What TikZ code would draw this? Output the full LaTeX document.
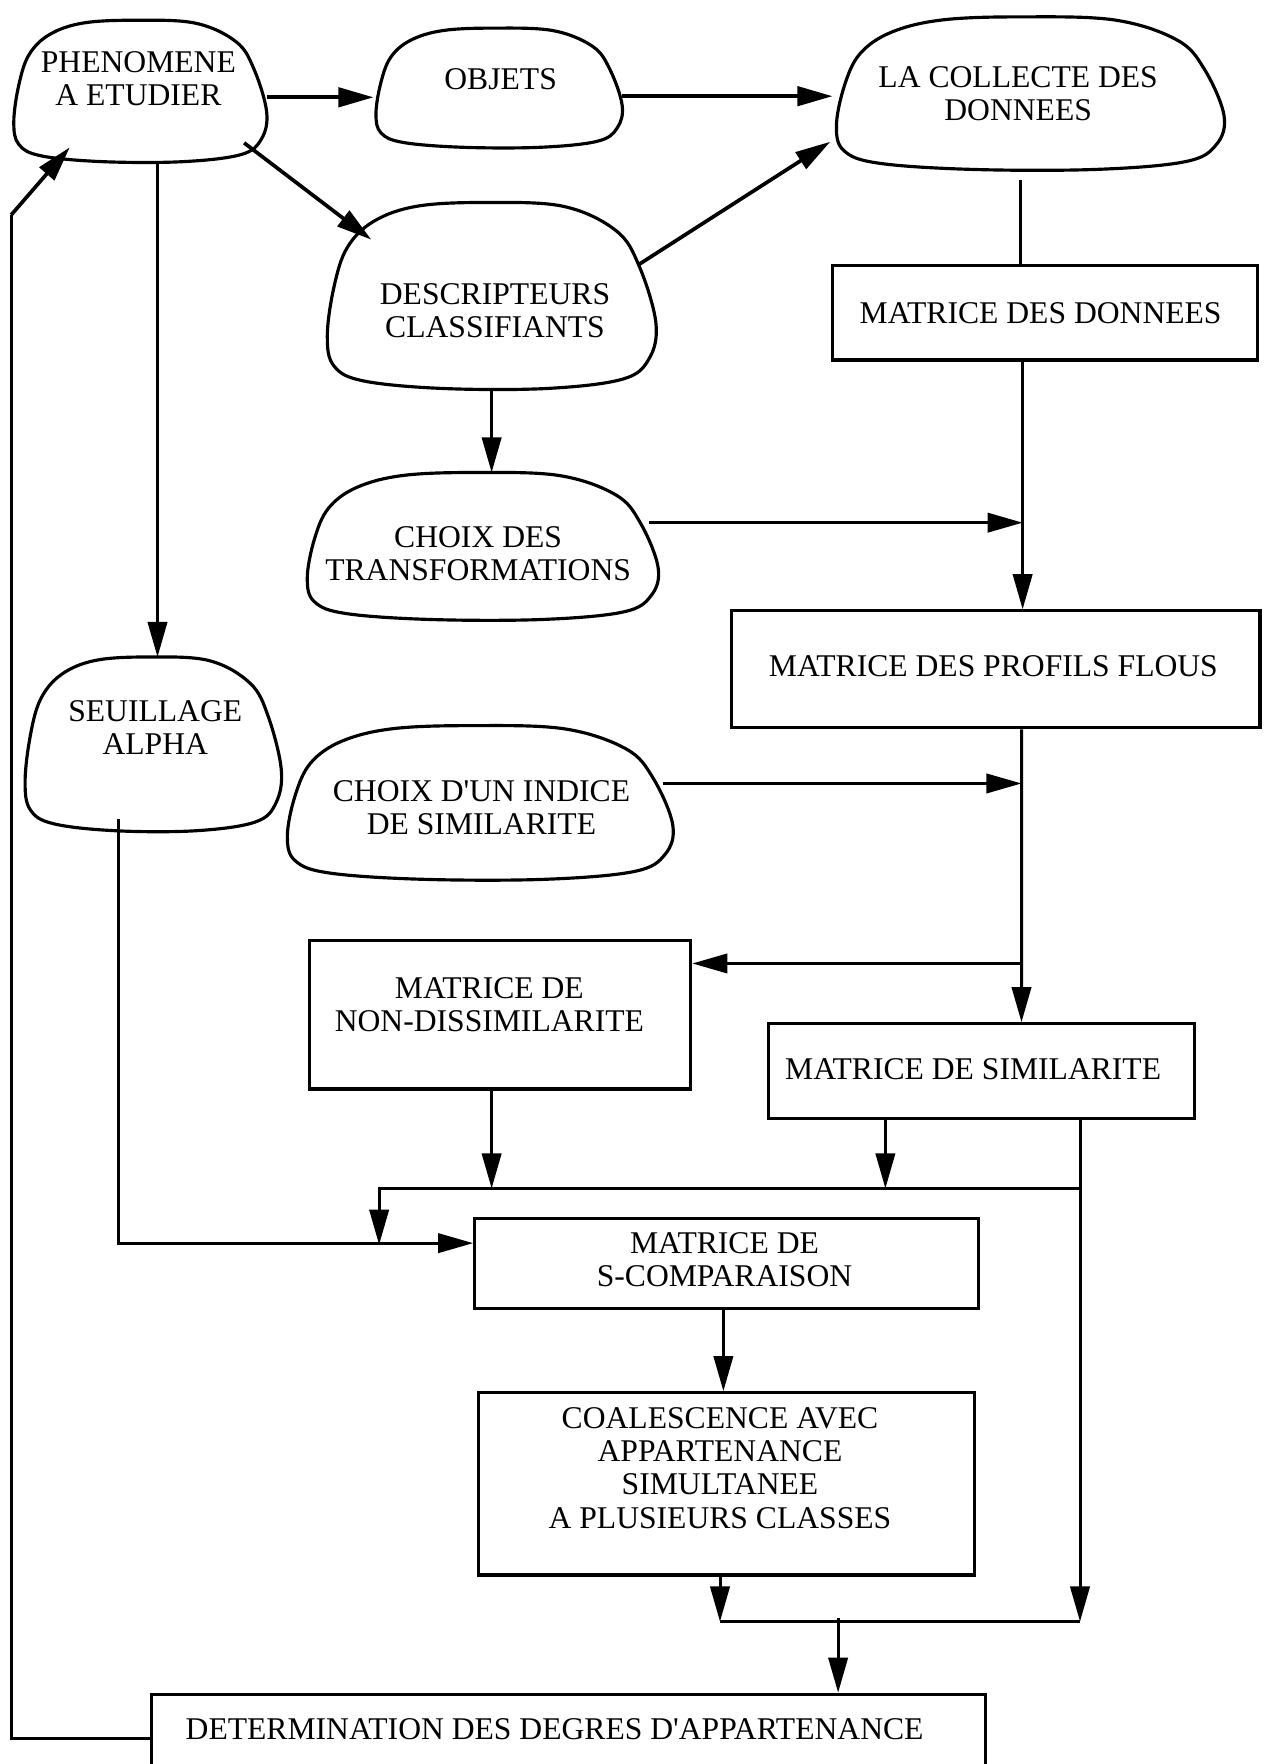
\documentclass[tikz,border=0pt]{standalone}
\usepackage{fontspec}
\setmainfont{Liberation Serif}
\usetikzlibrary{arrows.meta,calc,fit}
\tikzset{
  x=0.0225cm, y=-0.0225cm,
  blobline/.style={line width=1.8pt, line join=round},
  boxnode/.style={draw, line width=1.8pt, inner sep=0pt},
  holder/.style={inner sep=0pt, outer sep=0pt, draw=none},
  lbl/.style={align=center, font=\fontsize{18}{18.8}\selectfont, inner sep=0pt},
  conn/.style={line width=1.7pt},
  arr/.style={conn, -{Triangle[length=20pt,width=11pt]}},
  arrthick/.style={line width=2.1pt, -{Triangle[length=20pt,width=11pt]}}
}
\newcommand{\blobdraw}[5]{%
  \begin{scope}[shift={(#2,#3)}, xscale=#4-#2, yscale=#5-#3]
    \draw[blobline] plot[smooth cycle, tension=0.6] coordinates {
      (0.48,0.00) (0.72,0.02) (0.88,0.15) (0.95,0.34) (1.00,0.64) (0.98,0.83)
      (0.90,0.94) (0.67,0.99) (0.36,0.99) (0.12,0.95) (0.03,0.87) (0.01,0.71)
      (0.03,0.45) (0.07,0.24) (0.15,0.10) (0.28,0.02)};
  \end{scope}
  \node[holder, fit={(#2,#3) (#4,#5)}] (#1) {};
}
\begin{document}
\begin{tikzpicture}
\fill[white] (0,0) rectangle (1125,1568);
\useasboundingbox (0,0) rectangle (1125,1568);

% blobs
\blobdraw{phen}{10}{18}{237}{145}
\blobdraw{objets}{332}{25}{553}{132}
\blobdraw{collecte}{740}{15}{1088}{152}
\blobdraw{descr}{288}{180}{583}{347}
\blobdraw{choixT}{270}{420}{585}{552}
\blobdraw{seuil}{20}{584}{250}{740}
\blobdraw{choixI}{252}{645}{598}{783}

% boxes
\node[boxnode, fit={(740,236) (1118,320)}] (matD) {};
\node[boxnode, fit={(650,543) (1120,647)}] (matP) {};
\node[boxnode, fit={(275,836) (614,968)}] (matND) {};
\node[boxnode, fit={(683,910) (1062,994)}] (matS) {};
\node[boxnode, fit={(422,1083) (870,1163)}] (matSC) {};
\node[boxnode, fit={(425,1238) (866,1400)}] (coal) {};
\node[boxnode, fit={(135,1506) (876,1600)}] (det) {};

% labels
\node[lbl] (phenT) at (123,70) {PHENOMENE\\A ETUDIER};
\node[lbl] (objetsT) at (445,70) {OBJETS};
\node[lbl] (collecteT) at (905,83) {LA COLLECTE DES\\DONNEES};
\node[lbl] (descrT) at (440,276) {DESCRIPTEURS\\CLASSIFIANTS};
\node[lbl] (matDT) at (925,278) {MATRICE DES DONNEES};
\node[lbl] (choixTT) at (425,492) {CHOIX DES\\TRANSFORMATIONS};
\node[lbl] (matPT) at (883,592) {MATRICE DES PROFILS FLOUS};
\node[lbl] (seuilT) at (138,647) {SEUILLAGE\\ALPHA};
\node[lbl] (choixIT) at (428,718) {CHOIX D\textquotesingle UN INDICE\\DE SIMILARITE};
\node[lbl] (matNDT) at (435,893) {MATRICE DE\\NON-DISSIMILARITE};
\node[lbl] (matST) at (865,950) {MATRICE DE SIMILARITE};
\node[lbl] (matSCT) at (644,1120) {MATRICE DE\\S-COMPARAISON};
\node[lbl] (coalT) at (640,1305) {COALESCENCE AVEC\\APPARTENANCE\\SIMULTANEE\\A PLUSIEURS CLASSES};
\node[lbl] (detT) at (493,1537) {DETERMINATION DES DEGRES D\textquotesingle APPARTENANCE};

% top connectors
\draw[arrthick] ($(phen.east)+(0,5)$) -- ($(objets.west)+(0,8)$);
\draw[arrthick] ($(objets.east)+(0,7)$) -- ($(collecte.west)+(0,2)$);
\draw[arrthick] ($(phen.south east)+(-20,-18)$) -- ($(descr.north west)+(42,33)$);
\draw[arrthick] ($(descr.north east)+(-15,55)$) -- ($(collecte.south west)+(-2,-26)$);

\draw[arr] ($(phen.south)+(16.5,0)$) -- ($(seuil.north)+(5,0)$);
\draw[conn] ($(collecte.south)+(-7,8)$) -- ($(matD.north)+(-22,0)$);
\draw[arr] ($(matD.south)+(-20,0)$) -- ($(matP.north)+(24,0)$);
\draw[arr] ($(descr.south)+(1.5,0)$) -- ($(choixT.north)+(9.5,0)$);

\coordinate (jT) at ($(matP.north)+(24,-77)$);
\coordinate (tT) at (choixT.east |- jT);
\draw[arr] ($(tT)+(-8,0)$) -- (jT);

\draw[arr] ($(matP.south)+(23,0)$) -- ($(matS.north)+(35.5,0)$);

\coordinate (jI) at ($(matP.south)+(23,48)$);
\coordinate (tI) at (choixI.east |- jI);
\draw[arr] ($(tI)+(-9,0)$) -- (jI);

\coordinate (jN) at ($(matP.south)+(23,208)$);
\draw[arr] (jN) -- (jN -| matND.east);

% bus
\coordinate (b1) at ($(matND.south)+(-7.5,87)$);
\draw[arr] ($(matND.south)+(-7.5,0)$) -- (b1);
\coordinate (b2) at ($(matS.south)+(-85.5,61)$);
\draw[arr] ($(matS.south)+(-85.5,0)$) -- (b2);
\coordinate (b3) at ($(matS.south)+(87.5,61)$);
\coordinate (c2) at ($(matS.south)+(87.5,446)$);
\draw[arr] ($(matS.south)+(87.5,0)$) -- (c2);
\coordinate (b0) at ($(b3)+(-623,0)$);
\coordinate (b5) at ($(b0)+(0,50)$);
\draw[arr] (b3) -- (b0) -- (b5);

\coordinate (s1) at ($(seuil.south)+(-30,-12)$);
\draw[arr] (s1) |- ($(matSC.west)+(0,-18)$);

\draw[arr] ($(matSC.south)+(-3,0)$) -- ($(coal.north)+(-2.5,0)$);
\coordinate (c1) at ($(coal.south)+(-5.5,40)$);
\draw[arr] ($(coal.south)+(-5.5,0)$) -- (c1);
\draw[conn] (c1) -- (c2);
\coordinate (c3) at ($(det.north)+(239.5,-66)$);
\draw[arr] (c3) -- ($(det.north)+(239.5,0)$);

% feedback
\coordinate (f1) at ($(phen.south west)+(0,46)$);
\draw[conn] ($(det.west)+(0,-8)$) -| (f1);
\draw[arrthick] (f1) -- ($(phen.south west)+(52,-14)$);
\end{tikzpicture}
\end{document}
